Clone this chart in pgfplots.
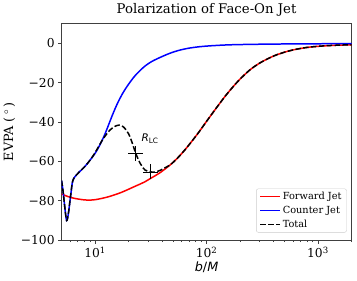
\documentclass[border=0pt]{standalone}
\usepackage{fontspec}
\setmainfont{DejaVu Serif}
\newfontfamily\dvsans{DejaVu Sans}
\usepackage{pgfplots}
\pgfplotsset{compat=1.18}

\pgfplotstableread{
b v
5.0 -69.7
5.15 -75
5.3 -81.5
5.45 -87.5
5.55 -90
5.65 -89
5.8 -85
5.93 -80.5
6.1 -75
6.22 -71.2
6.4 -68.8
6.8 -66.8
7.3 -65
8.07 -62.6
9.26 -58.4
10.0 -55.8
10.7 -53
11.5 -49.5
12.3 -45.8
13.2 -41.4
14.2 -36.8
15.2 -32.8
16.2 -29.4
17.5 -25.8
19 -22.5
21 -19.0
23 -16.2
25.5 -13.6
28.2 -11.4
32 -9.3
38.4 -7.1
47 -5.0
56 -3.6
70 -2.4
94 -1.5
150 -0.8
250 -0.5
500 -0.3
1000 -0.2
2000 -0.1
}\counterjet

\pgfplotstableread{
b v
5 -76.5
5.7 -77.8
6.5 -78.7
7.5 -79.3
8.5 -79.6
10 -79.4
13 -78
17 -75.8
22 -73
28 -70.3
31.6 -68.5
38 -65.8
47 -61.8
55 -58.2
65 -53.6
75 -49.2
85 -45.2
100 -39.6
116 -34.6
130 -30.8
150 -26.2
175 -21.7
201 -18.0
247 -13.3
300 -10.0
360 -7.6
430 -5.7
492 -4.6
600 -3.3
787 -2.1
1000 -1.5
1381 -1.0
2000 -0.7
}\forwardjet

\pgfplotstableread{
b v
5.0 -69.7
5.15 -75
5.3 -81.5
5.45 -87.5
5.55 -90
5.65 -89
5.8 -85
5.93 -80.5
6.1 -75
6.22 -71.2
6.4 -68.8
6.8 -66.8
7.3 -65
8.07 -62.6
9.26 -58.4
10.3 -54.2
11.5 -49.5
12.5 -46.5
13.6 -44
15 -42.2
16.5 -41.5
18 -42.5
20 -46
21.5 -50.5
23.2 -56
25.4 -61
28 -64.3
31.6 -65.3
35 -65.3
38.4 -64.5
43 -63
47 -61.8
55 -58.2
65 -53.6
75 -49.2
85 -45.2
100 -39.6
116 -34.6
130 -30.8
150 -26.2
175 -21.7
201 -18.0
247 -13.3
300 -10.0
360 -7.6
430 -5.7
492 -4.6
600 -3.3
787 -2.1
1000 -1.5
1381 -1.0
2000 -0.7
}\total

\pgfplotstableread{
b v
23.2 -56
31.6 -65.3
}\rlc

\begin{document}
\begin{tikzpicture}
\begin{axis}[
  scale only axis,
  width=290.5pt, height=217pt,
  xmode=log,
  xmin=5, xmax=2000,
  ymin=-100, ymax=10,
  axis line style={black!75, line width=0.9pt},
  every tick/.style={black!75, line width=0.8pt},
  tick align=outside,
  tick pos=left,
  major tick length=3.5pt,
  minor tick length=2pt,
  xtick={10,100,1000},
  xticklabels={10\textsuperscript{1},10\textsuperscript{2},10\textsuperscript{3}},
  minor xtick={6,7,8,9,20,30,40,50,60,70,80,90,200,300,400,500,600,700,800,900,2000},
  ytick={-100,-80,-60,-40,-20,0},
  yticklabels={−100,−80,−60,−40,−20,0},
  ticklabel style={font=\fontsize{12.3}{14}\selectfont},
  title={Polarization of Face-On Jet},
  title style={font=\fontsize{13.3}{15}\selectfont, yshift=-2pt},
  xlabel={{\dvsans\textit{b}/\textit{M}}},
  ylabel={EVPA (\,$^\circ$\,)},
  label style={font=\fontsize{12.8}{14}\selectfont},
  xlabel style={yshift=3pt},
  ylabel style={yshift=-1pt},
  legend style={font=\fontsize{9.8}{11}\selectfont, draw=black!20, rounded corners=2pt,
    fill=white, fill opacity=0.8, text opacity=1,
    at={(1,0)}, anchor=south east, xshift=-4.8pt, yshift=7.7pt,
    inner xsep=3pt, inner ysep=1.5pt, row sep=1pt},
  legend cell align=left,
  legend image code/.code={\draw[#1] (0pt,0pt) -- (20pt,0pt);},
]
\addplot[red, line width=1.5pt, smooth, tension=0.55] table[x=b,y=v] {\forwardjet};
\addlegendentry{Forward Jet}
\addplot[blue, line width=1.5pt, smooth, tension=0.55] table[x=b,y=v] {\counterjet};
\addlegendentry{Counter Jet}
\addplot[black, line width=1.5pt, dash pattern=on 5.5pt off 2.4pt, smooth, tension=0.55] table[x=b,y=v] {\total};
\addlegendentry{Total}
\addplot[black, only marks, mark=+, mark size=7.5pt, mark options={line width=0.8pt}, forget plot] table[x=b,y=v] {\rlc};
\node[anchor=west, font=\fontsize{10.5}{12}\selectfont] at (axis cs:24.3,-48.3) {\dvsans\textit{R}\textsubscript{LC}};
\end{axis}
\path[use as bounding box] (-61pt,-40.3pt) rectangle (296pt,237.7pt);
\end{tikzpicture}
\end{document}
